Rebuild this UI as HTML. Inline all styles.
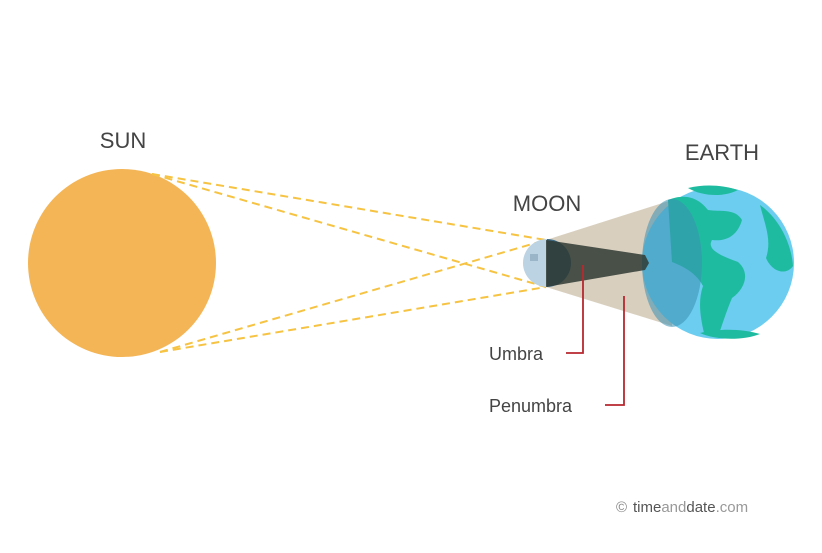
<!DOCTYPE html>
<html><head><style>
body{margin:0;background:#fff;width:822px;height:548px;overflow:hidden}
text{font-family:"Liberation Sans",sans-serif}
</style></head><body>
<svg width="822" height="548" viewBox="0 0 822 548" xmlns="http://www.w3.org/2000/svg">
<circle cx="122" cy="263" r="94" fill="#f4b556"/>
<g stroke="#f6c342" stroke-width="2" stroke-dasharray="8,5" fill="none">
<line x1="152" y1="174" x2="546" y2="287"/>
<line x1="152" y1="174" x2="546" y2="240"/>
<line x1="160" y1="352" x2="546" y2="240"/>
<line x1="160" y1="352" x2="546" y2="287"/>
</g>
<polygon points="546,240 672,200 672,326 546,287" fill="#d9cfbe"/>
<circle cx="718" cy="263" r="76" fill="#6ccdf0"/>
<path d="M668,200 C688,192 700,200 708,210 C720,212 735,208 742,220 C738,234 728,242 712,240 C706,250 722,256 738,262 C750,272 746,288 732,298 C726,312 722,326 718,336 L704,333 C700,316 698,300 703,286 C698,276 688,268 672,262 Z" fill="#1fbba0"/>
<path d="M760,205 C777,217 791,240 793,266 C786,276 772,272 766,258 C772,240 765,225 760,205 Z" fill="#1fbba0"/>
<path d="M688,188 C705,184 722,185 738,190 C725,197 703,197 688,188 Z" fill="#1fbba0"/>
<path d="M700,333 C715,340 742,341 760,334 C744,329 720,328 700,333 Z" fill="#1fbba0"/>
<ellipse cx="672" cy="263" rx="30" ry="64" fill="#3a8fb0" opacity="0.55"/>
<circle cx="547" cy="263" r="24" fill="#bcd3e4"/>
<path d="M547,239 A24,24 0 0 1 547,287 Z" fill="#3d6a85"/>
<rect x="530" y="254" width="8" height="7" fill="#9ab4c8"/>
<polygon points="546,240 645,255 649,263 645,270 546,287" fill="#2f3a32" opacity="0.85"/>
<g stroke="#b7282f" stroke-width="1.8" fill="none">
<polyline points="583,265 583,353 566,353"/>
<polyline points="624,296 624,405 605,405"/>
</g>
<text x="123" y="148" font-size="22" fill="#444" text-anchor="middle">SUN</text>
<text x="547" y="211" font-size="22" fill="#444" text-anchor="middle">MOON</text>
<text x="722" y="160" font-size="22" fill="#444" text-anchor="middle">EARTH</text>
<text x="489" y="360" font-size="18" fill="#444">Umbra</text>
<text x="489" y="412" font-size="18" fill="#444">Penumbra</text>
<text x="616" y="512" font-size="15" fill="#888">©</text>
<text x="633" y="512" font-size="15"><tspan fill="#555">time</tspan><tspan fill="#999">and</tspan><tspan fill="#555">date</tspan><tspan fill="#999">.com</tspan></text>
</svg>
</body></html>
